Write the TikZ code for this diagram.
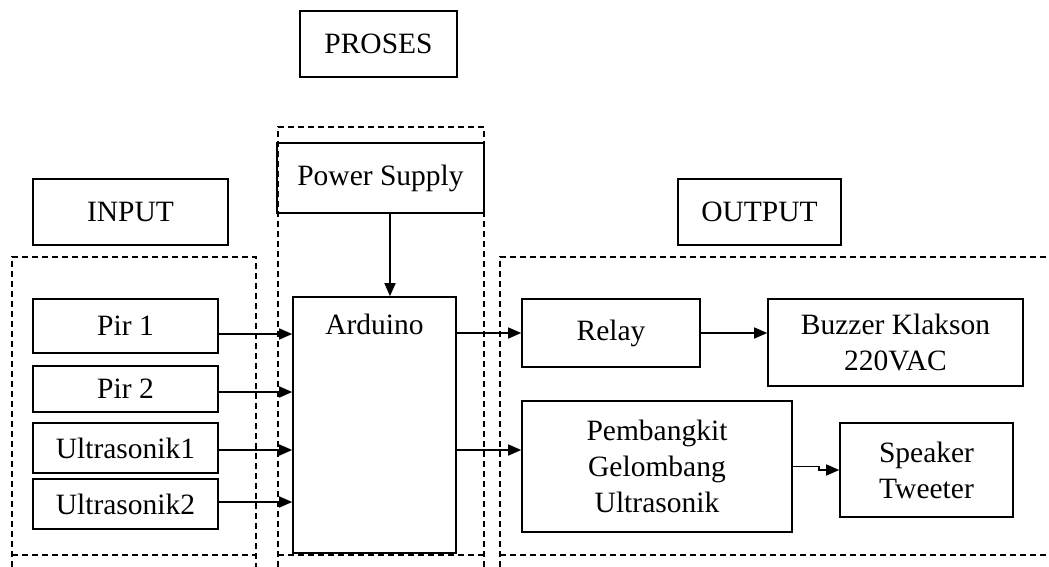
\documentclass[tikz,border=0pt]{standalone}
\usepackage{fontspec}
\setmainfont{Liberation Serif}
\usetikzlibrary{arrows.meta}
\begin{document}
\begin{tikzpicture}[x=1pt,y=-1pt,
  box/.style={draw, line width=1.6pt, inner sep=0pt, align=center,
    font=\fontsize{29.5}{36}\selectfont},
  grp/.style={draw, line width=1.4pt, dash pattern=on 6pt off 4pt},
  arr/.style={line width=1.5pt, -{Triangle[length=13pt,width=11pt]}}]
\useasboundingbox (0,0) rectangle (1049,567);
% dashed groups
\draw[grp] (12,567) -- (12,257) -- (256,257) -- (256,567);
\draw[grp] (12,555) -- (256,555);
\draw[grp] (278,567) -- (278,127) -- (484,127) -- (484,567);
\draw[grp] (278,555) -- (484,555);
\draw[grp] (500,567) -- (500,257) -- (1049,257);
\draw[grp] (500,555) -- (1049,555);
% heading boxes
\node[box, minimum width=157pt, minimum height=66pt] (proses) at (378.5,44) {PROSES};
\node[box, minimum width=195pt, minimum height=66pt] (input) at (130.5,212) {INPUT};
\node[box, minimum width=163pt, minimum height=66pt] (output) at (759.5,212) {OUTPUT};
% blocks
\node[box, minimum width=207pt, minimum height=70pt] (ps) at (380.5,178) {Power Supply};
\node[box, minimum width=163pt, minimum height=256pt,
  label={[anchor=base, inner sep=0pt, yshift=-38pt, font=\fontsize{29.5}{36}\selectfont]north:Arduino}] (ard) at (374.5,425) {};
\node[box, minimum width=185pt, minimum height=54pt] (pir1) at (125.5,326) {Pir 1};
\node[box, minimum width=185pt, minimum height=46pt] (pir2) at (125.5,389) {Pir 2};
\node[box, minimum width=185pt, minimum height=50pt] (us1) at (125.5,448) {Ultrasonik1};
\node[box, minimum width=185pt, minimum height=50pt] (us2) at (125.5,504) {Ultrasonik2};
\node[box, minimum width=178pt, minimum height=68pt] (relay) at (611,333) {Relay};
\node[box, minimum width=255pt, minimum height=87pt] (buzz) at (895.5,342.5) {Buzzer Klakson\\220VAC};
\node[box, minimum width=270pt, minimum height=131pt] (pem) at (657,466.5) {Pembangkit\\Gelombang\\Ultrasonik};
\node[box, minimum width=173pt, minimum height=94pt] (spk) at (926.5,470) {Speaker\\Tweeter};
% connectors
\draw[arr] ([xshift=9.5pt]ps.south) -- ([xshift=9.5pt]ps.south |- ard.north);
\draw[arr] ([yshift=-8pt]pir1.east) -- ([yshift=-8pt]pir1.east -| ard.west);
\draw[arr] ([yshift=-3pt]pir2.east) -- ([yshift=-3pt]pir2.east -| ard.west);
\draw[arr] ([yshift=-2pt]us1.east) -- ([yshift=-2pt]us1.east -| ard.west);
\draw[arr] ([yshift=2pt]us2.east) -- ([yshift=2pt]us2.east -| ard.west);
\draw[arr] (relay.west -| ard.east) -- (relay.west);
\draw[arr] (relay.east) -- (relay.east -| buzz.west);
\draw[arr] ([yshift=16.5pt]pem.west -| ard.east) -- ([yshift=16.5pt]pem.west);
\draw[arr] (pem.east) -- ++(26,0) |- (spk.west);
\end{tikzpicture}
\end{document}
